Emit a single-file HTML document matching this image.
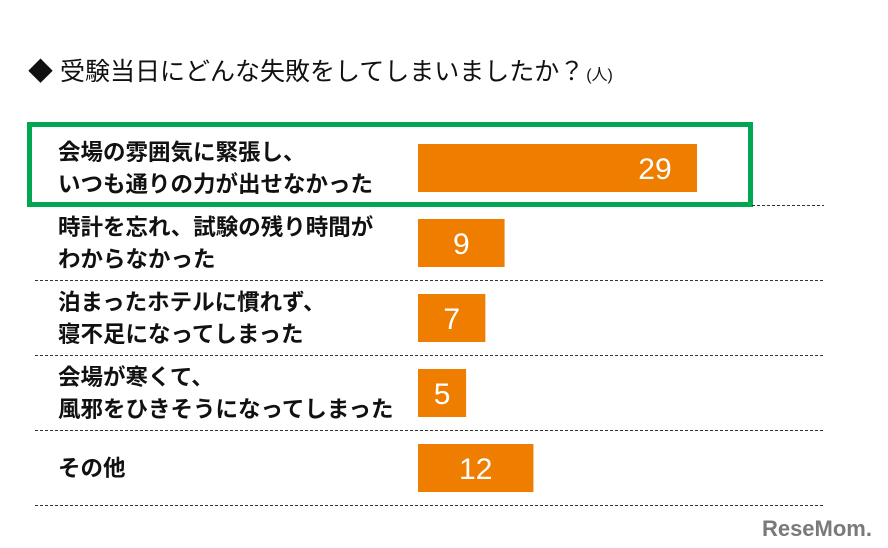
<!DOCTYPE html>
<html><head><meta charset="utf-8"><style>
body{margin:0;background:#fff;}
svg{display:block;font-family:"Liberation Sans","Noto Sans CJK JP",sans-serif;}
</style></head><body>
<svg id="chart" width="888" height="548" viewBox="0 0 888 548">
<text x="28" y="80" font-size="25" fill="#111">◆ 受験当日にどんな失敗をしてしまいましたか？<tspan font-size="16" dx="2">(人)</tspan></text>
<rect x="29.5" y="124.5" width="721" height="80" fill="none" stroke="#00a651" stroke-width="5"/>
<g id="rows"></g>
<text x="872" y="536" text-anchor="end" font-size="22" font-weight="bold" fill="#7a7a7a">ReseMom.</text>
</svg>
<script>
const categories1=["会場の雰囲気に緊張し、","時計を忘れ、試験の残り時間が","泊まったホテルに慣れず、","会場が寒くて、","その他"];
const categories2=["いつも通りの力が出せなかった","わからなかった","寝不足になってしまった","風邪をひきそうになってしまった",""];
const values=[29,9,7,5,12];
const x0=418, pxPer=9.62;
function xs(v){return x0+v*pxPer;}
function yc(i){return 168+i*75;}
const g=document.getElementById('rows');
const NS="http://www.w3.org/2000/svg";
values.forEach((v,i)=>{
  const c=yc(i);
  const r=document.createElementNS(NS,'rect');
  r.setAttribute('x',x0);r.setAttribute('y',c-24);r.setAttribute('width',xs(v)-x0);r.setAttribute('height',48);r.setAttribute('fill','#ee7d00');
  
  
  g.appendChild(r);
  const t=document.createElementNS(NS,'text');
  const w=xs(v)-x0;
  if(i===0){t.setAttribute('x',xs(v)-42);t.setAttribute('text-anchor','middle');}
  else{t.setAttribute('x',x0+w/2);t.setAttribute('text-anchor','middle');}
  t.setAttribute('y',c+11);t.setAttribute('font-size','30');t.setAttribute('fill','#fff');
  t.textContent=v;
  
  
  g.appendChild(t);
  const l=document.createElementNS(NS,'text');
  l.setAttribute('x',58);l.setAttribute('font-size','22.5');l.setAttribute('font-weight','bold');l.setAttribute('fill','#111');
  
  
  if(categories2[i]){
    const a=document.createElementNS(NS,'tspan');a.setAttribute('x',58);a.setAttribute('y',c-8);a.textContent=categories1[i];l.appendChild(a);
    const b=document.createElementNS(NS,'tspan');b.setAttribute('x',58);b.setAttribute('y',c+24);b.textContent=categories2[i];l.appendChild(b);
  } else {l.setAttribute('y',c+8);l.textContent=categories1[i];}
  g.appendChild(l);
  const d=document.createElementNS(NS,'line');
  d.setAttribute('x1',i===0?752:35);d.setAttribute('x2',824);d.setAttribute('y1',c+37.5);d.setAttribute('y2',c+37.5);
  d.setAttribute('stroke','#333');d.setAttribute('stroke-width','1');d.setAttribute('stroke-dasharray','3,2');
  
  
  g.appendChild(d);
});
</script>
</body></html>
